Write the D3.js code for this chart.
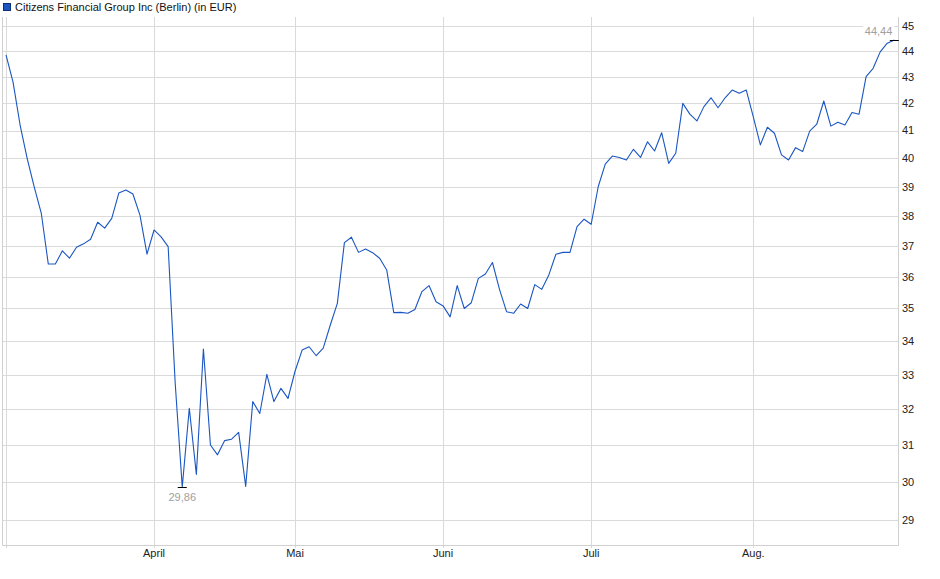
<!DOCTYPE html>
<html>
<head>
<meta charset="utf-8">
<script src="https://cdn.jsdelivr.net/npm/d3@7"></script>
<style>
  body { margin: 0; background: #fff; }
  svg { display: block; font-family: "Liberation Sans", Arial, sans-serif; }
</style>
</head>
<body>
<svg width="940" height="579"></svg>
<script>
//Closing prices, one per trading day (Berlin), March to August
const prices = [
    43.85, 42.8, 41.2, 40.0, 39.0, 38.1, 36.41, 36.41, 36.84, 36.6,
    36.96, 37.07, 37.22, 37.79, 37.59, 37.92, 38.78, 38.89, 38.75, 38.03,
    36.73, 37.53, 37.3, 36.98, 32.75, 29.86, 32.03, 30.2, 33.76, 31.0,
    30.73, 31.12, 31.16, 31.35, 29.88, 32.22, 31.88, 33.01, 32.22, 32.6,
    32.31, 33.1, 33.73, 33.83, 33.56, 33.79, 34.49, 35.16, 37.11, 37.29,
    36.79, 36.9, 36.78, 36.6, 36.22, 34.87, 34.88, 34.85, 34.97, 35.53,
    35.72, 35.21, 35.08, 34.74, 35.72, 35.0, 35.18, 35.95, 36.09, 36.46,
    35.6, 34.9, 34.85, 35.14, 35.0, 35.75, 35.6, 36.06, 36.73, 36.79,
    36.79, 37.64, 37.89, 37.72, 39.0, 39.79, 40.08, 40.03, 39.94, 40.32,
    40.03, 40.59, 40.26, 40.92, 39.82, 40.18, 42.0, 41.6, 41.35, 41.88,
    42.21, 41.84, 42.21, 42.5, 42.38, 42.5, 41.5, 40.48, 41.12, 40.9,
    40.12, 39.94, 40.38, 40.24, 40.98, 41.23, 42.09, 41.16, 41.3, 41.2,
    41.66, 41.6, 43.01, 43.33, 43.97, 44.31, 44.44
];

//First trading day of each month (index into prices) and its label
const monthStarts = [0, 21, 41, 62, 83, 106];
const monthLabels = ["", "April", "Mai", "Juni", "Juli", "Aug."];

//Price levels with a gridline and label
const yTicks = d3.range(29, 46);

const title = "Citizens Financial Group Inc (Berlin) (in EUR)";
const lineColor = "#1a56c2";
const gridColor = "#dadada";

const svg = d3.select("svg");

//Plot frame
const plot = {left: 3, right: 898, top: 17, bottom: 545};

const x = d3.scaleLinear()
    .domain([0, prices.length - 1])
    .range([6, 894.3]);

//The price axis is logarithmic
const y = d3.scaleLog()
    .domain([29, 45])
    .range([520, 25.8]);

const crisp = v => Math.round(v) + 0.5;

//Horizontal gridlines
svg.append("g")
    .selectAll("line")
    .data(yTicks)
    .enter()
    .append("line")
    .attr("x1", plot.left)
    .attr("x2", plot.right)
    .attr("y1", d => crisp(y(d)))
    .attr("y2", d => crisp(y(d)))
    .attr("stroke", gridColor);

//Vertical gridlines at month starts, with small ticks below the axis
svg.append("g")
    .selectAll("line")
    .data(monthStarts)
    .enter()
    .append("line")
    .attr("x1", d => crisp(x(d)))
    .attr("x2", d => crisp(x(d)))
    .attr("y1", plot.top)
    .attr("y2", plot.bottom + 3)
    .attr("stroke", gridColor);

//Frame: left, right and bottom
svg.append("path")
    .attr("d", `M${crisp(plot.left) - 1},${plot.top}V${crisp(plot.bottom)}H${crisp(plot.right)}V${plot.top}`)
    .attr("fill", "none")
    .attr("stroke", "#d0d0d0");

//Y labels on the right
svg.append("g")
    .selectAll("text")
    .data(yTicks)
    .enter()
    .append("text")
    .attr("x", 902)
    .attr("y", d => y(d))
    .attr("dy", "0.35em")
    .attr("font-size", "11px")
    .attr("fill", "#222")
    .text(d => d);

//Month labels
svg.append("g")
    .selectAll("text")
    .data(monthStarts)
    .enter()
    .append("text")
    .attr("x", d => x(d))
    .attr("y", 557)
    .attr("text-anchor", "middle")
    .attr("font-size", "11px")
    .attr("fill", "#222")
    .text((d, i) => monthLabels[i]);

//Price line
const line = d3.line()
    .x((d, i) => x(i))
    .y(d => y(d));

svg.append("path")
    .datum(prices)
    .attr("d", line)
    .attr("fill", "none")
    .attr("stroke", lineColor)
    .attr("stroke-width", 1.1)
    .attr("stroke-linejoin", "round");

//Min and max markers
const minIdx = d3.minIndex(prices);
const maxIdx = d3.maxIndex(prices);
const fmt = v => v.toFixed(2).replace(".", ",");

[minIdx, maxIdx].forEach(i => {
    svg.append("line")
        .attr("x1", x(i) - 4.5)
        .attr("x2", x(i) + 4.5)
        .attr("y1", crisp(y(prices[i])))
        .attr("y2", crisp(y(prices[i])))
        .attr("stroke", "#000");
});

svg.append("text")
    .attr("x", x(minIdx))
    .attr("y", y(prices[minIdx]) + 14)
    .attr("text-anchor", "middle")
    .attr("font-size", "11px")
    .attr("fill", "#a0a0a0")
    .text(fmt(prices[minIdx]));

//Max label sits on a white box, hiding the gridline behind it
svg.append("rect")
    .attr("x", 863)
    .attr("y", 24)
    .attr("width", 31)
    .attr("height", 13)
    .attr("fill", "#fff");

svg.append("text")
    .attr("x", x(maxIdx) - 2)
    .attr("y", y(prices[maxIdx]) - 5)
    .attr("text-anchor", "end")
    .attr("font-size", "11px")
    .attr("fill", "#a0a0a0")
    .text(fmt(prices[maxIdx]));

//Legend
svg.append("rect")
    .attr("x", 3.5)
    .attr("y", 3.5)
    .attr("width", 7)
    .attr("height", 7)
    .attr("fill", lineColor)
    .attr("stroke", "#0c2f78");

svg.append("text")
    .attr("x", 15)
    .attr("y", 11)
    .attr("font-size", "11px")
    .attr("fill", "#111")
    .text(title);
</script>
</body>
</html>
